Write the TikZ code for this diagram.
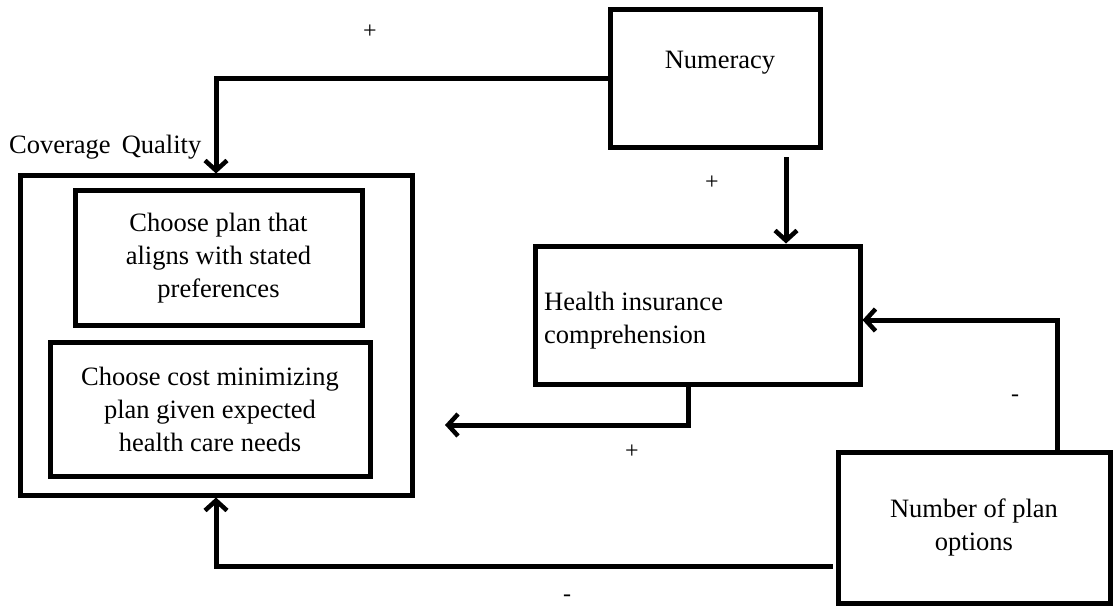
\documentclass[tikz,border=0pt]{standalone}
\usepackage{fontspec}
\setmainfont{Liberation Serif}
\usetikzlibrary{arrows.meta}
\begin{document}
\begin{tikzpicture}[x=1pt,y=-1pt,
  box/.style={draw,line width=5pt,rectangle,inner sep=0pt,align=center,font=\fontsize{26.5}{33}\selectfont},
  txt/.style={inner sep=0pt,font=\fontsize{26.5}{33}\selectfont},
  arr/.style={line width=5pt,line join=miter,-{Straight Barb[length=10pt,width=22pt,line width'=4.5pt]}},
  sign/.style={inner sep=0pt,font=\fontsize{24}{28}\selectfont}]
\useasboundingbox (0,0) rectangle (1120,607);
% boxes
\node[box,minimum width=210pt,minimum height=138pt] (num) at (715,79) {};
\node[txt] (numt) at (720,63) {Numeracy};
\node[box,minimum width=392pt,minimum height=319pt] (cov) at (216,335.5) {};
\node[box,minimum width=287pt,minimum height=135pt] (b1) at (218.5,258) {Choose plan that\\aligns with stated\\preferences};
\node[box,minimum width=320pt,minimum height=134pt] (b2) at (210,409) {Choose cost minimizing\\plan given expected\\health care needs};
\node[box,minimum width=325pt,minimum height=138pt] (hic) at (697.5,315) {};
\node[txt,anchor=west,align=left] (hict) at (544,321) {Health insurance\\comprehension};
\node[box,minimum width=272pt,minimum height=151pt] (npo) at (974,527.5) {Number of plan\\options};
\node[txt,anchor=west] (covl) at (9,147) {Coverage\, Quality};
% coordinates
\coordinate (hicIn) at (445,425);
% connectors
\draw[arr] (num.west) -| (cov.north);
\draw[arr] ([xshift=71pt,yshift=-7pt]num.south) -- ([xshift=88.5pt]hic.north);
\draw[arr] ([xshift=-9.5pt]hic.south) |- (hicIn);
\draw[arr] ([xshift=83pt]npo.north) |- ([yshift=-5pt]hic.east);
\draw[arr] ([yshift=-38.5pt,xshift=-3pt]npo.west) -| (cov.south);
% signs
\node[sign] (s1) at (370,32) {+};
\node[sign] (s2) at (712,183) {+};
\node[sign] (s3) at (632,452) {+};
\node[sign] (s4) at (1015,398) {-};
\node[sign] (s5) at (567,598) {-};
\end{tikzpicture}
\end{document}
